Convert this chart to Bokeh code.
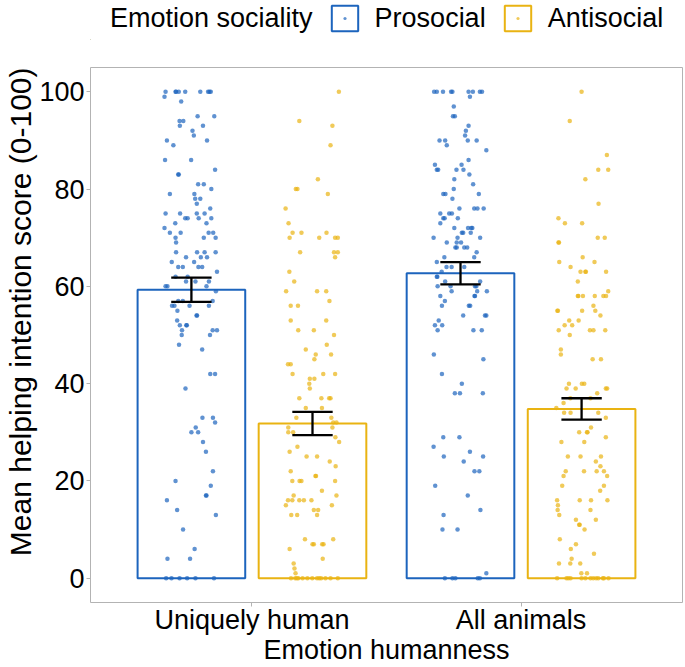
from bokeh.plotting import figure
from bokeh.layouts import column
from bokeh.models import (ColumnDataSource, Range1d, FixedTicker, Legend, LegendItem, Title)
from bokeh.transform import dodge
from bokeh.embed import file_html
from bokeh.resources import INLINE

# ---------------- data ----------------
categories = ["Uniquely human", "All animals"]
socialities = ["Prosocial", "Antisocial"]
legend_title = "Emotion sociality"
x_title = "Emotion humanness"
y_title = "Mean helping intention score (0-100)"
y_ticks = [0, 20, 40, 60, 80, 100]

pro_mean = [59.3, 62.7]
anti_mean = [31.8, 34.8]
pro_se = [2.5, 2.3]
anti_se = [2.4, 2.2]

# individual scores: (score, [horizontal jitter of each point, in category units])
uh_pro_rows = [
    (100, [-0.096, -0.059, -0.057, -0.047, -0.023, 0.033, 0.062, 0.067, 0.072]),
    (99, [-0.100]), (98, [-0.038]), (95, [0.023, 0.085]), (94, [-0.044, -0.030]),
    (93, [-0.043, 0.043]), (92, [0.004]), (91, [0.009]), (90, [-0.091, 0.058]),
    (89, [-0.067]), (86, [-0.098, -0.001]), (84, [0.088]), (83, [-0.049, -0.047]),
    (81, [0.025, 0.046]), (80, [0.074]), (79, [-0.080, 0.011]), (78, [0.014, 0.033]),
    (77, [0.020]), (76, [0.070]), (75, [-0.096, -0.042, 0.020, 0.049]),
    (74, [-0.023, -0.014, 0.027, 0.074]), (73, [-0.060, 0.056]), (72, [-0.100]),
    (71, [-0.080, -0.040, 0.064, 0.081]), (70, [-0.059, 0.046, 0.090]), (69, [-0.057]),
    (67, [-0.057, 0.021, 0.049, 0.090]), (66, [-0.020, 0.035, 0.058]), (65, [-0.073, 0.010]),
    (64, [-0.049, -0.032, 0.026, 0.040]), (63, [0.095]), (62, [-0.059, -0.014]),
    (61, [-0.020, 0.015, 0.065]), (60, [-0.096, -0.089, 0.056]), (59, [0.091]),
    (57, [-0.049, -0.032, 0.079]), (56, [-0.072, -0.063, -0.007, 0.065]), (55, [-0.052]),
    (54, [0.019, 0.021]), (53, [-0.053]), (52, [-0.043, -0.019, -0.017]),
    (51, [-0.035, 0.079, 0.095]), (50, [-0.036, 0.069]), (48, [-0.046]), (47, [0.040]),
    (42, [0.070, 0.088]), (39, [-0.022]), (33, [0.041, 0.080]), (32, [0.088]), (31, [0.016]),
    (30, [0.000, 0.025]), (28, [0.043]), (26, [0.054]), (22, [0.080]), (20, [-0.059]),
    (19, [0.072]), (17, [0.054, 0.056]), (16, [-0.091]), (14, [-0.053]), (13, [0.091]),
    (10, [-0.031]), (6, [0.012]), (4, [-0.089, -0.005]),
    (0, [-0.094, -0.074, -0.044, -0.016, 0.015, 0.084]),
]

uh_anti_rows = [
    (100, [0.098]), (94, [-0.049]), (93, [0.074]), (89, [0.067]), (82, [0.020]),
    (80, [-0.062, -0.056]), (79, [0.057]), (76, [-0.100]), (73, [-0.089]),
    (71, [-0.074, -0.041, 0.052]), (70, [-0.085, 0.025, 0.084, 0.094]),
    (67, [-0.046, 0.080, 0.094]), (66, [0.084]), (63, [-0.086]), (61, [-0.068]),
    (59, [-0.098, 0.017, 0.051]), (57, [0.063]), (56, [-0.081, -0.054]), (53, [-0.081, 0.051]),
    (51, [-0.053, 0.005]), (50, [0.080]), (48, [0.053]), (47, [-0.025]), (46, [0.012, 0.069]),
    (45, [0.007]), (44, [-0.091, -0.081]), (42, [-0.074, 0.040, 0.084]), (41, [-0.010, 0.007]),
    (40, [-0.012]), (39, [-0.010]), (37, [-0.049, 0.033, 0.062, 0.067]), (35, [-0.025, 0.035]),
    (33, [-0.060, 0.070]), (32, [0.077, 0.089]), (31, [-0.090, 0.074]), (30, [-0.090, -0.072]),
    (29, [0.085]), (28, [0.099]), (27, [-0.056]), (26, [-0.085]), (25, [-0.022, 0.017]),
    (24, [0.064]), (23, [0.086]), (22, [-0.081]), (21, [0.011, 0.013]),
    (20, [-0.075, -0.048, -0.041, 0.084]), (18, [0.035]), (17, [-0.070, 0.089]),
    (16, [-0.091, -0.075, -0.049, -0.032, -0.004]), (15, [-0.099, 0.072]), (14, [0.005, 0.021]),
    (13, [-0.079, -0.057, 0.017]), (8, [-0.028, 0.077]), (7, [0.000, 0.005, 0.036, 0.041]),
    (6, [-0.085]), (4, [0.038]), (3, [-0.070]), (2, [-0.067]), (1, [-0.063]),
    (0, [-0.080, -0.064, -0.058, -0.053, -0.037, -0.019, -0.001, 0.017, 0.025, 0.032,
         0.048, 0.067, 0.094]),
]

aa_pro_rows = [
    (100, [-0.098, -0.088, -0.065, -0.035, -0.030, 0.030, 0.046, 0.072, 0.080]),
    (99, [0.035]), (97, [-0.025]), (95, [-0.028, -0.021]), (93, [0.030]), (92, [0.020]),
    (91, [0.017]), (90, [-0.078, -0.057, 0.027, 0.060]), (89, [-0.051]), (88, [0.096]),
    (86, [0.030]), (85, [-0.095, 0.004]), (84, [-0.088, -0.083, -0.015, 0.011]), (83, [0.033]),
    (82, [-0.023]), (81, [0.047]), (80, [-0.025]), (79, [-0.064, -0.056, 0.068]), (78, [-0.030]),
    (76, [-0.004, 0.051, 0.063, 0.086]), (75, [-0.075, -0.042, -0.032]),
    (74, [-0.064, -0.059, -0.010]), (73, [-0.075]), (72, [-0.023, 0.028, 0.040, 0.044]),
    (71, [0.005, 0.010, 0.038]), (70, [-0.100, -0.011, 0.073]), (69, [-0.051, -0.014, 0.002]),
    (68, [-0.019, -0.014, 0.014, 0.025]), (67, [0.060]), (66, [-0.060, 0.051]), (65, [-0.088]),
    (64, [-0.052, -0.033, 0.014]), (63, [-0.070]), (62, [-0.088, -0.086]), (61, [-0.057, 0.073]),
    (60, [-0.085, -0.037, 0.054, 0.059]), (59, [-0.033, 0.062, 0.098]),
    (58, [-0.075, 0.052, 0.054]), (57, [-0.058]), (56, [-0.069, 0.031, 0.036]),
    (54, [0.010, 0.091, 0.096]), (53, [-0.081]), (52, [-0.095, -0.068]),
    (51, [-0.085, 0.048, 0.079]), (46, [-0.099]), (45, [0.085]), (42, [-0.069]), (40, [0.005]),
    (38, [-0.021, -0.002, 0.083]), (29, [-0.064, -0.004]), (27, [-0.100]), (26, [0.035]),
    (25, [-0.062, 0.084]), (24, [0.012]), (22, [0.052, 0.070]), (19, [-0.094]), (17, [0.027]),
    (14, [0.074]), (13, [-0.063]), (10, [-0.067, -0.011]), (1, [0.096]),
    (0, [-0.058, -0.030, -0.019, 0.064, 0.072]),
]

aa_anti_rows = [
    (100, [0.000]), (94, [-0.044]), (87, [0.094]), (84, [0.062, 0.099]), (82, [0.014]),
    (77, [0.063]), (74, [-0.086]), (73, [-0.062, 0.002]), (70, [0.060, 0.086]),
    (69, [-0.086, -0.084]), (66, [0.004]), (65, [-0.083, 0.048]), (64, [-0.041]),
    (63, [-0.004, 0.014, 0.016, 0.091]), (61, [-0.014]), (59, [0.099]),
    (58, [-0.014, -0.012, 0.005, 0.049, 0.081, 0.091]), (56, [0.044]),
    (55, [-0.090, -0.088, 0.002, 0.051]), (54, [0.070]), (53, [-0.046, -0.011]),
    (52, [-0.063, -0.035]), (51, [-0.085, 0.031, 0.044, 0.088]), (50, [-0.044]),
    (47, [-0.077]), (46, [-0.077]), (45, [0.041, 0.072]), (40, [-0.047, 0.001, 0.010]),
    (39, [-0.056, -0.022, 0.090, 0.095]), (38, [0.058]), (37, [-0.042, 0.033]), (36, [-0.067]),
    (35, [-0.094]), (34, [-0.065, -0.041, 0.062]), (33, [0.090]), (31, [0.035]),
    (30, [-0.009, 0.020, 0.022]), (29, [0.090]), (28, [-0.075, 0.010]),
    (25, [-0.051, -0.004, 0.072]), (24, [0.053]), (23, [0.070]),
    (22, [-0.059, 0.009, 0.056, 0.083]), (21, [-0.067, 0.095]), (19, [-0.072, 0.083]),
    (18, [0.069]), (16, [-0.091, -0.007, 0.035, 0.096]), (15, [-0.088]), (14, [-0.089, 0.033]),
    (13, [-0.083]), (12, [-0.021, 0.053]), (11, [-0.009, -0.007]), (10, [0.011]), (8, [-0.081]),
    (7, [-0.021]), (6, [-0.040]), (5, [0.046]), (4, [-0.037]), (3, [-0.084, -0.042, -0.005]),
    (1, [-0.001, 0.020]),
    (0, [-0.091, -0.056, -0.049, -0.041, 0.000, 0.014, 0.033, 0.043, 0.054, 0.062, 0.079,
         0.083, 0.100]),
]

# ---------------- styling constants ----------------
BLUE = "#1C64BD"
YELLOW = "#E9B312"
COLORS = {"Prosocial": BLUE, "Antisocial": YELLOW}
FONT = "Liberation Sans"
FS = "27px"
DODGE = 0.225
BAR_W = 0.4
CAP = 0.075
WIDTH = 685
LEG_H = 40
MAIN_H = 627

# ---------------- main plot ----------------
p = figure(width=WIDTH, height=MAIN_H, output_backend="svg", toolbar_location=None,
           x_range=Range1d(0.4, 2.6), y_range=Range1d(-5, 105),
           min_border_left=90, min_border_right=3, min_border_top=27, min_border_bottom=0)
p.xgrid.visible = False
p.ygrid.visible = False
p.outline_line_color = "#b3b3b3"
p.outline_line_width = 1
p.background_fill_color = "white"
p.border_fill_color = "white"

for ax in (p.xaxis[0], p.yaxis[0]):
    ax.axis_line_color = None
    ax.major_tick_line_color = "#b3b3b3"
    ax.major_tick_in = 0
    ax.major_tick_out = 4
    ax.minor_tick_line_color = None
    ax.major_label_text_font = FONT
    ax.major_label_text_font_size = FS
    ax.major_label_text_color = "black"
    ax.axis_label_text_font = FONT
    ax.axis_label_text_font_size = FS
    ax.axis_label_text_font_style = "normal"
    ax.axis_label_text_color = "black"

cat_pos = [i + 1 for i in range(len(categories))]
p.xaxis.ticker = FixedTicker(ticks=cat_pos)
p.xaxis.major_label_overrides = {c: lab for c, lab in zip(cat_pos, categories)}
p.xaxis.major_label_standoff = -2
p.xaxis.axis_label = x_title
p.xaxis.axis_label_standoff = -3
p.yaxis.ticker = FixedTicker(ticks=y_ticks)
p.yaxis.major_label_standoff = 2

# y-axis title, placed outside the tick labels and aligned to the top of the panel
p.add_layout(Title(text=y_title, align="right", offset=0, standoff=0,
                   text_font=FONT, text_font_size="30px", text_font_style="normal",
                   text_color="black"), "left")


def points_source(rows_per_cat, offset):
    xs, ys = [], []
    for pos, rows in zip(cat_pos, rows_per_cat):
        for score, jits in rows:
            for j in jits:
                xs.append(pos + offset + j)
                ys.append(score)
    return ColumnDataSource(dict(x=xs, y=ys))


groups = {}
for soc, means, ses, rows, off in [
        ("Prosocial", pro_mean, pro_se, [uh_pro_rows, aa_pro_rows], -DODGE),
        ("Antisocial", anti_mean, anti_se, [uh_anti_rows, aa_anti_rows], DODGE)]:
    col = COLORS[soc]
    bsrc = ColumnDataSource(dict(
        x=cat_pos, top=means,
        lo=[m - s for m, s in zip(means, ses)], hi=[m + s for m, s in zip(means, ses)]))
    p.vbar(x=dodge("x", off, range=p.x_range), top="top", bottom=0, width=BAR_W,
           source=bsrc, fill_color="white", fill_alpha=0.0, line_color=col, line_width=2)
    p.scatter(x="x", y="y", source=points_source(rows, off), size=4.5,
              fill_color=col, fill_alpha=0.7, line_color=None)
    groups[soc] = (bsrc, off)

for soc in socialities:
    bsrc, off = groups[soc]
    p.segment(x0=dodge("x", off, range=p.x_range), x1=dodge("x", off, range=p.x_range),
              y0="lo", y1="hi", source=bsrc, line_color="black", line_width=2.3)
    for end in ("lo", "hi"):
        p.segment(x0=dodge("x", off - CAP, range=p.x_range), x1=dodge("x", off + CAP, range=p.x_range),
                  y0=end, y1=end, source=bsrc, line_color="black", line_width=2.3)

# ---------------- legend strip (keys only; drawn outside its own visible range) ----------------
lg = figure(width=WIDTH, height=LEG_H, output_backend="svg", toolbar_location=None,
            x_range=Range1d(0, 1), y_range=Range1d(0, 1),
            x_axis_location=None, y_axis_location=None,
            min_border_left=0, min_border_right=0, min_border_top=0, min_border_bottom=0)
lg.xgrid.visible = False
lg.ygrid.visible = False
lg.outline_line_color = None
lg.background_fill_color = "white"
lg.border_fill_color = "white"

title_holder = lg.scatter(x=[-10], y=[-10], size=1, fill_alpha=0, line_alpha=0)
items = [LegendItem(label=legend_title, renderers=[title_holder])]
for soc in socialities:
    col = COLORS[soc]
    key_src = ColumnDataSource(dict(x=[-10], top=[-5], y=[-10]))
    key_bar = lg.vbar(x="x", top="top", width=BAR_W, source=key_src, fill_color="white",
                      fill_alpha=0.0, line_color=col, line_width=2)
    key_pt = lg.scatter(x="x", y="y", source=key_src, marker="dot", size=4,
                        fill_color=col, line_color=col, line_alpha=0.7, fill_alpha=0.7)
    items.append(LegendItem(label=soc, renderers=[key_bar, key_pt]))

legend = Legend(items=items, orientation="horizontal", location=(-27, 6),
                glyph_width=33, glyph_height=32, label_standoff=14, spacing=15,
                padding=0, margin=0, border_line_color=None, background_fill_alpha=0,
                label_text_font=FONT, label_text_font_size=FS, label_text_color="black",
                label_height=32)
lg.add_layout(legend)

layout = column(lg, p, spacing=0)
open("out.html", "w").write(file_html(layout, INLINE))
